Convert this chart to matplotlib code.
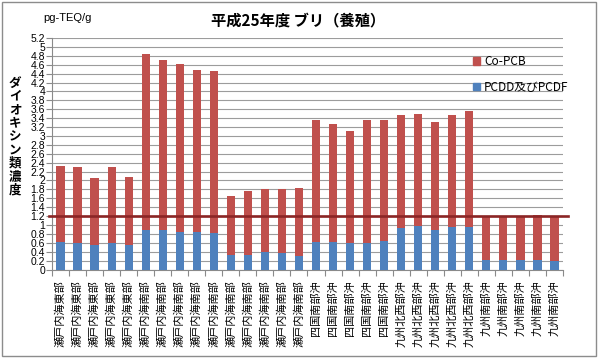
import matplotlib
matplotlib.use('Agg')
import matplotlib.pyplot as plt
import numpy as np
from matplotlib.patches import Rectangle, Patch

plt.rcParams['font.family'] = ['Noto Sans CJK JP', 'DejaVu Sans']

# data (pg-TEQ/g)
areas = (['瀬戸内海東部'] * 5 + ['瀬戸内海南部'] * 10 + ['四国南部沖'] * 5
         + ['九州北西部沖'] * 5 + ['九州南部沖'] * 5)
totals = [2.33, 2.30, 2.06, 2.30, 2.08,
          4.84, 4.71, 4.62, 4.49, 4.45,
          1.65, 1.77, 1.80, 1.80, 1.83,
          3.35, 3.26, 3.11, 3.35, 3.35,
          3.46, 3.50, 3.32, 3.48, 3.57,
          1.20, 1.20, 1.20, 1.22, 1.20]
pcdd_pcdf = [0.61, 0.59, 0.55, 0.59, 0.55,
             0.88, 0.88, 0.85, 0.84, 0.81,
             0.33, 0.33, 0.40, 0.37, 0.30,
             0.61, 0.61, 0.59, 0.60, 0.63,
             0.93, 0.98, 0.89, 0.95, 0.95,
             0.21, 0.22, 0.21, 0.22, 0.20]
co_pcb = [t - p for t, p in zip(totals, pcdd_pcdf)]
guideline = 1.2
y_ticks = np.round(np.arange(0, 5.21, 0.2), 1)

RED = '#C0504D'
BLUE = '#4F81BD'

fig = plt.figure(figsize=(6.0, 3.61), dpi=100)
ax = fig.add_axes([52 / 600, 1 - 269.5 / 361, 511 / 600, (269.5 - 38) / 361])

x = np.arange(len(areas))
b1 = ax.bar(x, pcdd_pcdf, width=0.48, color=BLUE, zorder=3)
b2 = ax.bar(x, co_pcb, bottom=pcdd_pcdf, width=0.48, color=RED, zorder=3)

ax.axhline(guideline, xmin=-0.006, xmax=1.01, color='#8B2525', lw=1.9,
           zorder=4, clip_on=False)

ax.set_xlim(-0.5, len(areas) - 0.5)
ax.set_ylim(0, 5.2)
ax.set_yticks(y_ticks)
ax.set_yticklabels(['%g' % v for v in y_ticks], fontsize=7.5,
                   family=['Liberation Sans', 'DejaVu Sans'])
ax.yaxis.grid(True, color='#9C9C9C', lw=0.8, zorder=0)
ax.tick_params(axis='y', length=4, width=0.8, color='#8A8A8A', pad=1)

ax.set_xticks(x)
ax.set_xticklabels(areas, rotation=90, fontsize=8, va='top', ha='center')
ax.set_xticks(np.arange(-0.5, len(areas), 1), minor=True)
ax.tick_params(axis='x', which='major', length=0, pad=8)
ax.tick_params(axis='x', which='minor', length=4, width=0.8, color='#8A8A8A')

for side in ['top', 'right']:
    ax.spines[side].set_visible(False)
for side in ['left', 'bottom']:
    ax.spines[side].set_color('#8A8A8A')
    ax.spines[side].set_linewidth(0.8)

handles = [Patch(color=RED), Patch(color=BLUE)]
ax.legend(handles, ['Co-PCB', 'PCDD及びPCDF'], loc='upper left',
          bbox_to_anchor=(465 / 600, 1 - 47 / 361), bbox_transform=fig.transFigure,
          frameon=False, fontsize=8.5, handlelength=0.6, handleheight=0.6,
          handletextpad=0.3, labelspacing=1.05, borderpad=0.2)

fig.text(0.497, 1 - 20 / 361, '平成25年度 ブリ（養殖）', ha='center', va='center',
         fontsize=11, fontweight='bold')
fig.text(43 / 600, 1 - 18 / 361, 'pg-TEQ/g', ha='left', va='center', fontsize=8,
         family=['Liberation Sans', 'DejaVu Sans'])

ylabel = 'ダイオキシン類濃度'
for i, ch in enumerate(ylabel):
    fig.text(15 / 600, 1 - (83 + i * 13.4) / 361, ch, ha='center', va='center',
             fontsize=9, fontweight='bold')

fig.patches.append(Rectangle((2 / 600, 1 - 356 / 361), 594 / 600, 354 / 361,
                             transform=fig.transFigure, fill=False,
                             edgecolor='#8C8C8C', lw=1.0))

fig.savefig('out.png', dpi=100)
